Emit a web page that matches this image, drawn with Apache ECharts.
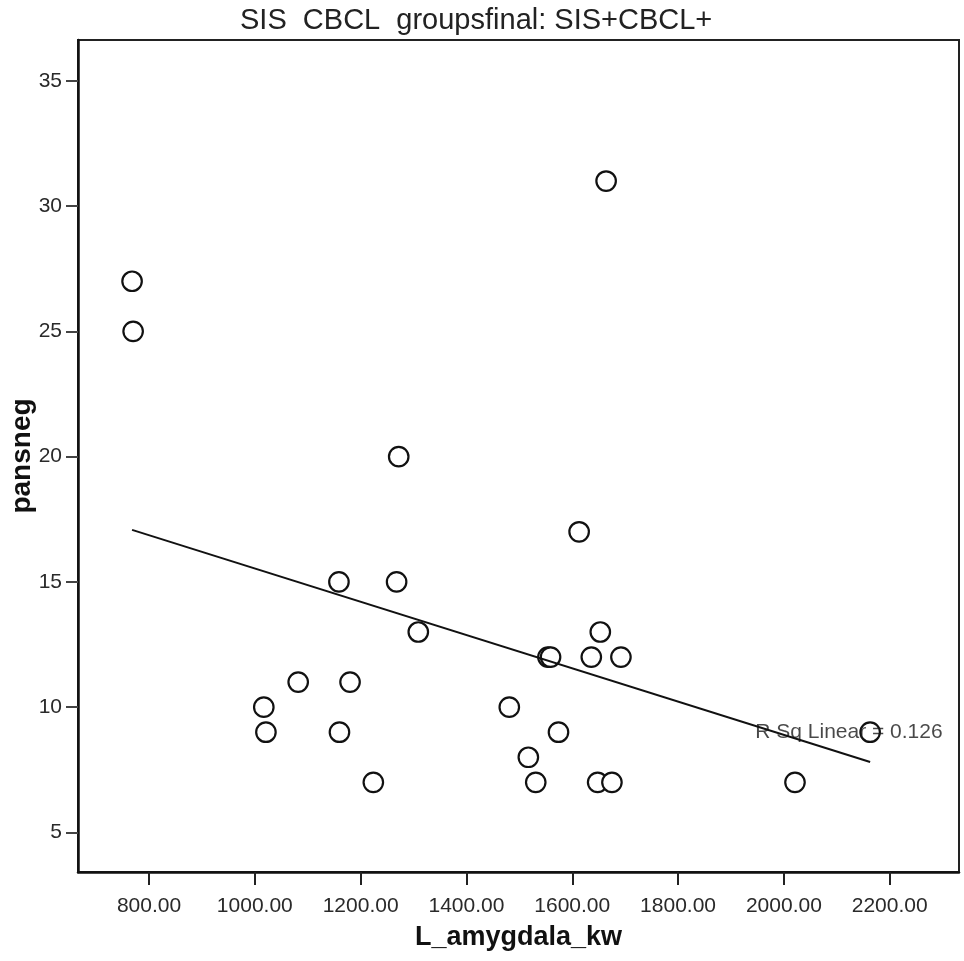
<!DOCTYPE html>
<html>
<head>
<meta charset="utf-8">
<script src="https://cdn.jsdelivr.net/npm/echarts@6/dist/echarts.min.js"></script>
<style>
  html, body { margin: 0; padding: 0; background: #fff; }
  #chart { width: 964px; height: 961px; }
</style>
</head>
<body>
<div id="chart"></div>
<script>
// ---- data ----
const titleText = 'SIS  CBCL  groupsfinal: SIS+CBCL+';
const xName = 'L_amygdala_kw';
const yName = 'pansneg';
const rsqText = 'R Sq Linear = 0.126';

const amygdala = [768, 770, 1017, 1021, 1082, 1159, 1160, 1180, 1224, 1272, 1268, 1309, 1481, 1517,
                  1531, 1554, 1559, 1574, 1613, 1636, 1648, 1653, 1664, 1675, 1692, 2021, 2163];
const pansneg  = [27, 25, 10, 9, 11, 15, 9, 11, 7, 20, 15, 13, 10, 8,
                  7, 12, 12, 9, 17, 12, 7, 13, 31, 7, 12, 7, 9];

const xTicks = [800, 1000, 1200, 1400, 1600, 1800, 2000, 2200];
const yTicks = [5, 10, 15, 20, 25, 30, 35];

const rsqPos = [2123, 9];

// ---- linear fit from the data ----
const n = amygdala.length;
const mx = amygdala.reduce((a, b) => a + b, 0) / n;
const my = pansneg.reduce((a, b) => a + b, 0) / n;
let sxy = 0, sxx = 0;
for (let i = 0; i < n; i++) {
  sxy += (amygdala[i] - mx) * (pansneg[i] - my);
  sxx += (amygdala[i] - mx) * (amygdala[i] - mx);
}
const slope = sxy / sxx;
const icpt = my - slope * mx;
const xmin = Math.min(...amygdala), xmax = Math.max(...amygdala);
const fitLine = [[xmin, icpt + slope * xmin], [xmax, icpt + slope * xmax]];

const FONT = 'Liberation Sans, Arial, sans-serif';

const chart = echarts.init(document.getElementById('chart'), null, { renderer: 'canvas' });
chart.setOption({
  animation: false,
  backgroundColor: '#fff',
  title: {
    text: titleText,
    left: 240,
    top: 6,
    padding: 0,
    textStyle: { fontSize: 29, fontWeight: 'normal', color: '#222', fontFamily: FONT }
  },
  grid: {
    left: 78, top: 40, right: 5, bottom: 89,
    show: true, borderColor: '#222', borderWidth: 2, backgroundColor: '#fff',
    containLabel: false, outerBoundsMode: 'none'
  },
  xAxis: {
    type: 'value',
    min: 665.8, max: 2331,
    name: xName,
    nameLocation: 'middle',
    nameGap: 52,
    nameMoveOverlap: false,
    nameTextStyle: { fontSize: 27, fontWeight: 'bold', color: '#111', fontFamily: FONT },
    axisLine: { show: true, onZero: false, lineStyle: { color: '#111', width: 2.5 } },
    axisTick: { show: true, length: 13, customValues: xTicks, lineStyle: { color: '#222', width: 2 } },
    axisLabel: { customValues: xTicks, formatter: v => Number(v).toFixed(2), fontSize: 21, color: '#2a2a2a', margin: 24, fontFamily: FONT },
    splitLine: { show: false }
  },
  yAxis: {
    type: 'value',
    min: 3.42, max: 36.63,
    name: yName,
    nameLocation: 'middle',
    nameRotate: 90,
    nameGap: 42,
    nameMoveOverlap: false,
    nameTextStyle: { fontSize: 28, fontWeight: 'bold', color: '#111', fontFamily: FONT },
    axisLine: { show: true, onZero: false, lineStyle: { color: '#111', width: 2.5 } },
    axisTick: { show: true, length: 12, customValues: yTicks, lineStyle: { color: '#444', width: 2 } },
    axisLabel: { customValues: yTicks, fontSize: 21, color: '#2a2a2a', margin: 16, fontFamily: FONT },
    splitLine: { show: false }
  },
  series: [
    {
      type: 'line',
      data: fitLine,
      symbol: 'none',
      lineStyle: { color: '#111', width: 2 },
      silent: true
    },
    {
      type: 'scatter',
      data: [rsqPos],
      symbolSize: 0,
      silent: true,
      label: {
        show: true, position: 'inside', formatter: rsqText,
        fontSize: 21, color: '#1a1a1a', fontFamily: FONT
      }
    },
    {
      type: 'scatter',
      data: amygdala.map((x, i) => [x, pansneg[i]]),
      symbol: 'circle',
      symbolSize: 19.5,
      itemStyle: { color: '#fff', borderColor: '#111', borderWidth: 2.2, opacity: 1 }
    }
  ]
});
</script>
</body>
</html>
